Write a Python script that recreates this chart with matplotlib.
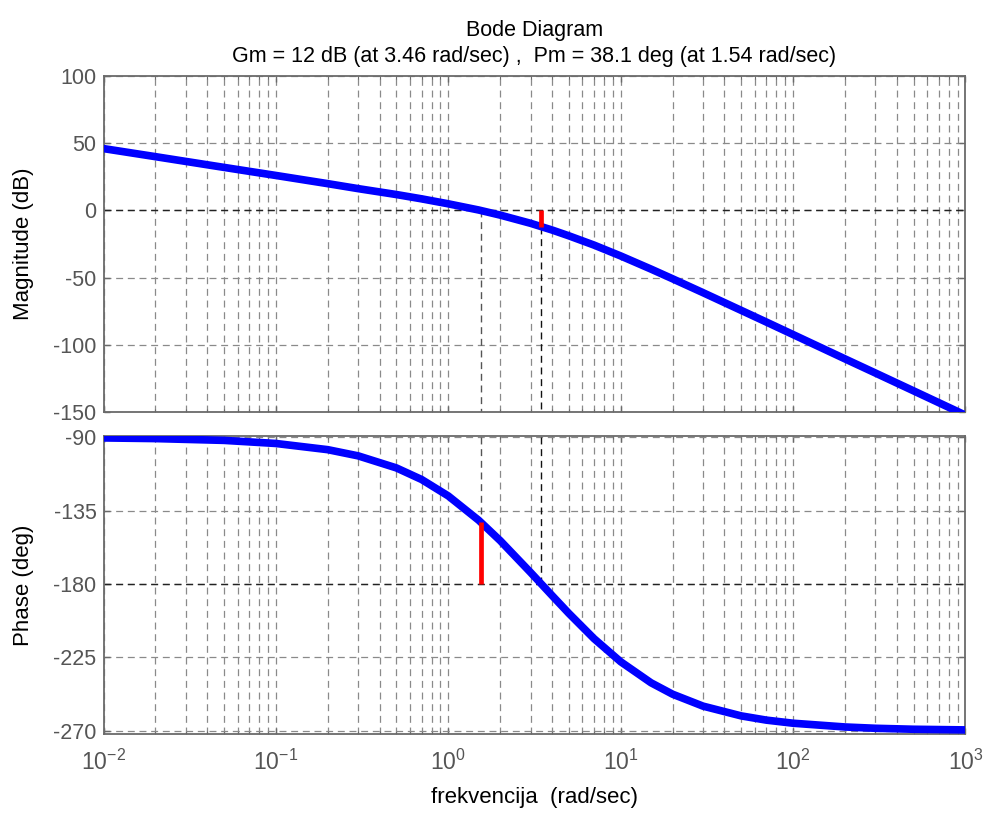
"""Bode diagram with gain / phase margin markers, MATLAB margin() look."""

import math

import matplotlib
matplotlib.use("Agg")
import matplotlib.pyplot as plt
from matplotlib.ticker import FixedLocator, FuncFormatter, LogLocator, NullFormatter

plt.rcParams["font.family"] = ["Liberation Sans", "DejaVu Sans"]
plt.rcParams["mathtext.fontset"] = "custom"
plt.rcParams["mathtext.rm"] = "Liberation Sans"
plt.rcParams["mathtext.it"] = "Liberation Sans:italic"
plt.rcParams["mathtext.bf"] = "Liberation Sans:bold"
plt.rcParams["axes.unicode_minus"] = False
plt.rcParams["lines.scale_dashes"] = False

# frequency samples (rad/sec)
FREQ = [0.01, 0.02, 0.05, 0.1, 0.2, 0.3, 0.5, 0.7, 1, 1.5, 2, 3, 4, 5, 7,
        10, 15, 20, 30, 50, 70, 100, 200, 300, 500, 1000]
MAG_DB = [46.0, 40.0, 32.0, 26.0, 19.9, 16.2, 11.8, 8.6, 4.9, 0.3, -3.5,
          -9.6, -14.6, -18.9, -25.8, -33.9, -43.7, -50.9, -61.2, -74.4,
          -83.1, -92.4, -110.5, -121.0, -134.3, -152.4]
PHASE_DEG = [-90.4, -90.8, -91.9, -93.8, -97.6, -101.4, -108.8, -115.9,
             -126.0, -140.9, -153.4, -172.9, -187.1, -198.0, -213.5,
             -227.7, -240.6, -247.6, -254.9, -260.9, -263.5, -265.4,
             -267.7, -268.5, -269.1, -269.5]

GM_DB, GM_FREQ = 12, 3.46
PM_DEG, PM_FREQ = 38.1, 1.54

MAG_TICKS = [-150, -100, -50, 0, 50, 100]
PHASE_TICKS = [-270, -225, -180, -135, -90]

BLUE = "#0000ff"
RED = "#ff0000"
GRID = "#8a8a8a"
SPINE = "#6a6a6a"
TICK_TXT = "#555555"
DASH = (0, (5, 3.4))
FS = 15.5


def _style(ax, yticks):
    ax.set_xscale("log")
    ax.set_xlim(1e-2, 1e3)
    ax.xaxis.set_major_locator(LogLocator(base=10, numticks=10))
    ax.xaxis.set_minor_locator(LogLocator(base=10, subs=range(2, 10), numticks=20))
    ax.xaxis.set_minor_formatter(NullFormatter())
    ax.yaxis.set_major_locator(FixedLocator(yticks))
    ax.set_yticklabels([str(v) for v in yticks])
    ax.grid(True, which="major", axis="both", color=GRID, ls=DASH, lw=0.9)
    ax.grid(True, which="minor", axis="x", color=GRID, ls=DASH, lw=0.9)
    ax.tick_params(which="both", direction="in", top=True, right=True,
                   colors=SPINE, labelcolor=TICK_TXT, labelsize=FS, pad=5)
    ax.tick_params(which="major", length=4, width=1)
    ax.tick_params(which="minor", length=2.5, width=0.8)
    for s in ax.spines.values():
        s.set_color(SPINE)
        s.set_linewidth(1.3)
    ax.set_axisbelow(True)


def main():
    fig = plt.figure(figsize=(9.85, 8.14), dpi=100, facecolor="white")
    ax_m = fig.add_axes([0.1051, 0.4939, 0.8751, 0.4127])
    ax_p = fig.add_axes([0.1051, 0.0983, 0.8751, 0.3655])

    # magnitude
    _style(ax_m, MAG_TICKS)
    ax_m.set_ylim(-150, 100)
    ax_m.xaxis.set_major_formatter(NullFormatter())
    ax_m.axhline(0, color="#222222", ls=DASH, lw=1.0, zorder=1)
    ax_m.plot([GM_FREQ, GM_FREQ], [-GM_DB, -150], color="#111111", ls=DASH, lw=1.0, zorder=1)
    ax_m.plot([PM_FREQ, PM_FREQ], [0, -150], color="#555555", ls=DASH, lw=1.0, zorder=1)
    ax_m.plot(FREQ, MAG_DB, color=BLUE, lw=5.5, solid_capstyle="butt", zorder=3)
    ax_m.plot([GM_FREQ, GM_FREQ], [0, -GM_DB], color=RED, lw=3.4,
              solid_capstyle="butt", zorder=4)
    ax_m.set_ylabel("Magnitude (dB)", fontsize=16, color="black", va="center")
    ax_m.yaxis.set_label_coords(-0.0934, 0.5)
    ax_m.set_title("Bode Diagram\nGm = 12 dB (at 3.46 rad/sec) ,  Pm = 38.1 deg (at 1.54 rad/sec)",
                   fontsize=FS, color="black", pad=10, linespacing=1.3)

    # phase
    _style(ax_p, PHASE_TICKS)
    ax_p.set_ylim(-272, -89.5)
    ax_p.xaxis.set_major_formatter(
        FuncFormatter(lambda v, _: f"$10^{{{int(round(math.log10(v)))}}}$"))
    ax_p.tick_params(axis="x", which="major", pad=11, labelsize=16.5)
    ax_p.axhline(-180, color="#222222", ls=DASH, lw=1.0, zorder=1)
    ax_p.plot([GM_FREQ, GM_FREQ], [-90, -180], color="#111111", ls=DASH, lw=1.0, zorder=1)
    ax_p.plot([PM_FREQ, PM_FREQ], [-90, -180 + PM_DEG], color="#555555", ls=DASH, lw=1.0, zorder=1)
    ax_p.plot(FREQ, PHASE_DEG, color=BLUE, lw=5.5, solid_capstyle="butt", zorder=3)
    ax_p.plot([PM_FREQ, PM_FREQ], [-180, -180 + PM_DEG], color=RED, lw=3.4,
              solid_capstyle="butt", zorder=4)
    ax_p.set_ylabel("Phase (deg)", fontsize=16, color="black", va="center")
    ax_p.yaxis.set_label_coords(-0.0934, 0.5)
    ax_p.set_xlabel("frekvencija  (rad/sec)", fontsize=16, color="black", va="center")
    ax_p.xaxis.set_label_coords(0.5, -0.212)

    fig.savefig("out.png", dpi=100, facecolor="white")
    plt.close(fig)


if __name__ == "__main__":
    main()
